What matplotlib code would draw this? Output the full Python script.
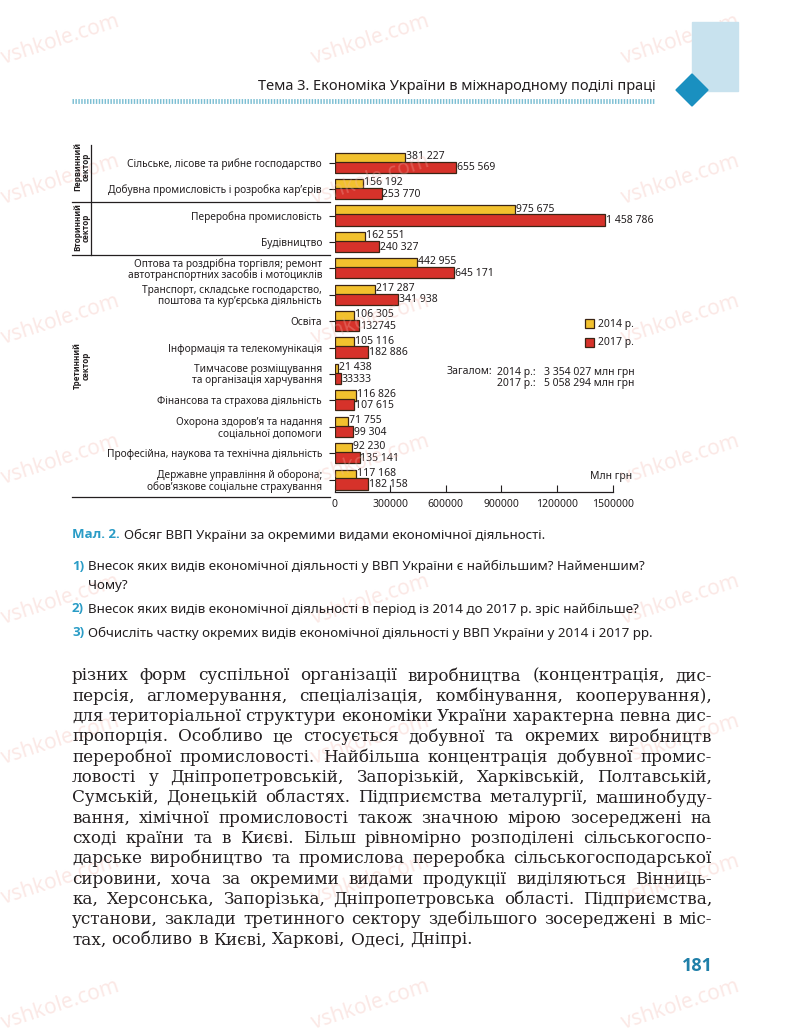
import numpy as np
import matplotlib
matplotlib.use('Agg')
import matplotlib.pyplot as plt
from matplotlib import transforms
from matplotlib.patches import Rectangle, Polygon
from matplotlib.lines import Line2D

W, H = 800, 1035

categories = [
    'Сільське, лісове та рибне господарство',
    'Добувна промисловість і розробка кар\u2019єрів',
    'Переробна промисловість',
    'Будівництво',
    'Оптова та роздрібна торгівля; ремонт\nавтотранспортних засобів і мотоциклів',
    'Транспорт, складське господарство,\nпоштова та кур\u2019єрська діяльність',
    'Освіта',
    'Інформація та телекомунікація',
    'Тимчасове розміщування\nта організація харчування',
    'Фінансова та страхова діяльність',
    'Охорона здоров\u2019я та надання\nсоціальної допомоги',
    'Професійна, наукова та технічна діяльність',
    'Державне управління й оборона;\nобов\u2019язкове соціальне страхування',
]
gdp_2014 = [381227, 156192, 975675, 162551, 442955, 217287, 106305,
            105116, 21438, 116826, 71755, 92230, 117168]
gdp_2017 = [655569, 253770, 1458786, 240327, 645171, 341938, 132745,
            182886, 33333, 107615, 99304, 135141, 182158]
labels_2014 = ['381 227', '156 192', '975 675', '162 551', '442 955', '217 287',
               '106 305', '105 116', '21 438', '116 826', '71 755', '92 230', '117 168']
labels_2017 = ['655 569', '253 770', '1 458 786', '240 327', '645 171', '341 938',
               '132745', '182 886', '33333', '107 615', '99 304', '135 141', '182 158']
x_ticks = [0, 300000, 600000, 900000, 1200000, 1500000]

sectors = ['Первинний\nсектор', 'Вторинний\nсектор', 'Третинний\nсектор']
sector_sizes = [2, 2, 9]
years = ['2014 р.', '2017 р.']
totals = ['3 354 027 млн грн', '5 058 294 млн грн']

header = 'Тема 3. Економіка України в міжнародному поділі праці'
caption_num = 'Мал. 2.'
caption = 'Обсяг ВВП України за окремими видами економічної діяльності.'
questions = [
    ('1)', ['Внесок яких видів економічної діяльності у ВВП України є найбільшим? Найменшим?', 'Чому?']),
    ('2)', ['Внесок яких видів економічної діяльності в період із 2014 до 2017 р. зріс найбільше?']),
    ('3)', ['Обчисліть частку окремих видів економічної діяльності у ВВП України у 2014 і 2017 рр.']),
]
body = [
    'різних форм суспільної організації виробництва (концентрація, дис-',
    'персія, агломерування, спеціалізація, комбінування, кооперування),',
    'для територіальної структури економіки України характерна певна дис-',
    'пропорція. Особливо це стосується добувної та окремих виробництв',
    'переробної промисловості. Найбільша концентрація добувної промис-',
    'ловості у Дніпропетровській, Запорізькій, Харківській, Полтавській,',
    'Сумській, Донецькій областях. Підприємства металургії, машинобуду-',
    'вання, хімічної промисловості також значною мірою зосереджені на',
    'сході країни та в Києві. Більш рівномірно розподілені сільськогоспо-',
    'дарське виробництво та промислова переробка сільськогосподарської',
    'сировини, хоча за окремими видами продукції виділяються Вінниць-',
    'ка, Херсонська, Запорізька, Дніпропетровська області. Підприємства,',
    'установи, заклади третинного сектору здебільшого зосереджені в міс-',
    'тах, особливо в Києві, Харкові, Одесі, Дніпрі.',
]
page_no = '181'

plt.rcParams['font.family'] = ['Noto Sans', 'DejaVu Sans']
BOLD = ['Open Sans', 'DejaVu Sans']

yellow = '#f2c12e'
red = '#d6322a'
edge = '#3a2414'
teal = '#2a9cc6'
ink = '#231f20'


def fx(x):
    return x / W


def fy(y):
    return 1 - y / H


fig = plt.figure(figsize=(8, 10.35), dpi=100)
renderer = fig.canvas.get_renderer()

# watermark
for wy in [40, 180, 320, 460, 600, 740, 880, 1005]:
    for wx in [60, 370, 680]:
        fig.text(fx(wx), fy(wy), 'vshkole.com', fontsize=15, color='#f3b4aa',
                 alpha=0.3, rotation=18, ha='center', va='center', zorder=0)

# header decoration
fig.patches.append(Rectangle((fx(692), fy(91)), 46 / W, 69 / H,
                             transform=fig.transFigure, color='#c8e2ee', zorder=1))
d = 16
fig.patches.append(Polygon([(fx(692 - d), fy(90)), (fx(692), fy(90 - d)),
                            (fx(692 + d), fy(90)), (fx(692), fy(90 + d))],
                           closed=True, transform=fig.transFigure, color='#1a90c0', zorder=2))
fig.text(fx(258), fy(86), header, fontsize=10.5, color=ink, va='center', ha='left')
fig.lines.append(Line2D([fx(72), fx(655)], [fy(101), fy(101)], transform=fig.transFigure,
                        color='#7cbfd3', linewidth=3.5, linestyle=(0, (0.3, 0.3))))

# chart
ax = fig.add_axes([fx(334.5), fy(491.7), (612.7 - 334.5) / W, (491.7 - 145) / H])
ax.patch.set_alpha(0)
rows = np.arange(len(categories))
ax.barh(rows - 0.17, gdp_2014, height=0.42, color=yellow, edgecolor=edge, linewidth=0.9, zorder=2)
ax.barh(rows + 0.17, gdp_2017, height=0.42, color=red, edgecolor=edge, linewidth=0.9, zorder=3)
for r, v, s in zip(rows, gdp_2014, labels_2014):
    ax.text(v + 5000, r - 0.24, s, va='center', ha='left', fontsize=7.5, color=ink)
for r, v, s in zip(rows, gdp_2017, labels_2017):
    ax.text(v + 5000, r + 0.2, s, va='center', ha='left', fontsize=7.5, color=ink)
ax.set_xlim(0, 1500000)
ax.set_ylim(12.46, -0.67)
ax.set_yticks(rows)
ax.set_yticklabels(categories, fontsize=7.3, linespacing=1.0, color=ink)
ax.tick_params(axis='y', length=4, width=0.8, pad=5, color=ink)
ax.set_xticks(x_ticks)
ax.set_xticklabels([str(t) for t in x_ticks], fontsize=7.5, color=ink)
ax.tick_params(axis='x', direction='in', length=5, width=0.8, pad=5, color=ink)
for s in ['top', 'right', 'left']:
    ax.spines[s].set_visible(False)
ax.spines['bottom'].set_linewidth(0.9)
ax.spines['bottom'].set_color(ink)
ax.text(1.07, 0.045, 'Млн грн', transform=ax.transAxes, ha='right', va='center',
        fontsize=7.5, color=ink)

# sector brackets
tr = transforms.blended_transform_factory(fig.transFigure, ax.transData)
bounds = np.cumsum(sector_sizes) - 0.5
starts = np.concatenate([[-0.5], bounds[:-1]])
shift = [-0.35, -0.05, -0.3]
for i, (name, a, b) in enumerate(zip(sectors, starts, bounds)):
    yb = b if i < len(sectors) - 1 else b + 0.15
    fig.lines.append(Line2D([fx(72), fx(330)], [yb, yb], transform=tr, color=ink, linewidth=0.9))
    fig.text(fx(82), (a + b) / 2 + shift[i], name, transform=tr,
             rotation=90, ha='center', va='center', fontsize=5.8, fontweight='bold',
             family=BOLD, color=ink, linespacing=1.0)
fig.lines.append(Line2D([fx(91), fx(91)], [-0.67, bounds[1]], transform=tr, color=ink, linewidth=0.9))

# legend and totals
for i, (yr, col) in enumerate(zip(years, [yellow, red])):
    yy = 324 + i * 19
    fig.patches.append(Rectangle((fx(585), fy(yy + 4.5)), 9 / W, 9 / H, transform=fig.transFigure,
                                 facecolor=col, edgecolor=edge, linewidth=0.9))
    fig.text(fx(598), fy(yy), yr, fontsize=7.5, va='center', ha='left', color=ink)
fig.text(fx(447), fy(372), 'Загалом:', fontsize=7.5, va='center', ha='left', color=ink)
for i, (yr, tot) in enumerate(zip(years, totals)):
    yy = 372 + i * 11.5
    fig.text(fx(497), fy(yy), yr + ':', fontsize=7.5, va='center', ha='left', color=ink)
    fig.text(fx(544), fy(yy), tot, fontsize=7.5, va='center', ha='left', color=ink)

# caption
t = fig.text(fx(72), fy(535), caption_num, fontsize=9.5, fontweight='bold', family=BOLD,
             color=teal, va='center', ha='left')
wcap = t.get_window_extent(renderer).width
fig.text(fx(72 + wcap + 4), fy(535), caption, fontsize=9.6, color=ink, va='center', ha='left')

# questions
qy = [566, 609, 633]
for (num, lines), y0 in zip(questions, qy):
    fig.text(fx(72), fy(y0), num, fontsize=9.5, fontweight='bold', family=BOLD, color=teal,
             va='center', ha='left')
    for j, ln in enumerate(lines):
        fig.text(fx(88), fy(y0 + j * 19), ln, fontsize=9.6, color=ink, va='center', ha='left')


# body text, justified
def justified(lines, x0, x1, y0, step, **kw):
    sp = fig.text(0, 0, 'a a', **kw)
    nsp = fig.text(0, 0, 'aa', **kw)
    space = sp.get_window_extent(renderer).width - nsp.get_window_extent(renderer).width
    sp.remove()
    nsp.remove()
    for i, line in enumerate(lines):
        y = y0 + i * step
        words = line.split(' ')
        texts = [fig.text(0, fy(y), w, va='center', ha='left', **kw) for w in words]
        widths = [tt.get_window_extent(renderer).width for tt in texts]
        if i == len(lines) - 1 or len(words) == 1:
            gap = space
        else:
            gap = (x1 - x0 - sum(widths)) / (len(words) - 1)
        x = x0
        for tt, w in zip(texts, widths):
            tt.set_x(fx(x))
            x += w + gap


justified(body, 72, 712, 676, 20.3, fontsize=12.1, family='DejaVu Serif', color=ink)

fig.text(fx(697), fy(966), page_no, fontsize=13, fontweight='bold', family=BOLD,
         color='#1f7fa8', ha='center', va='center')

fig.savefig('out.png', dpi=100)
